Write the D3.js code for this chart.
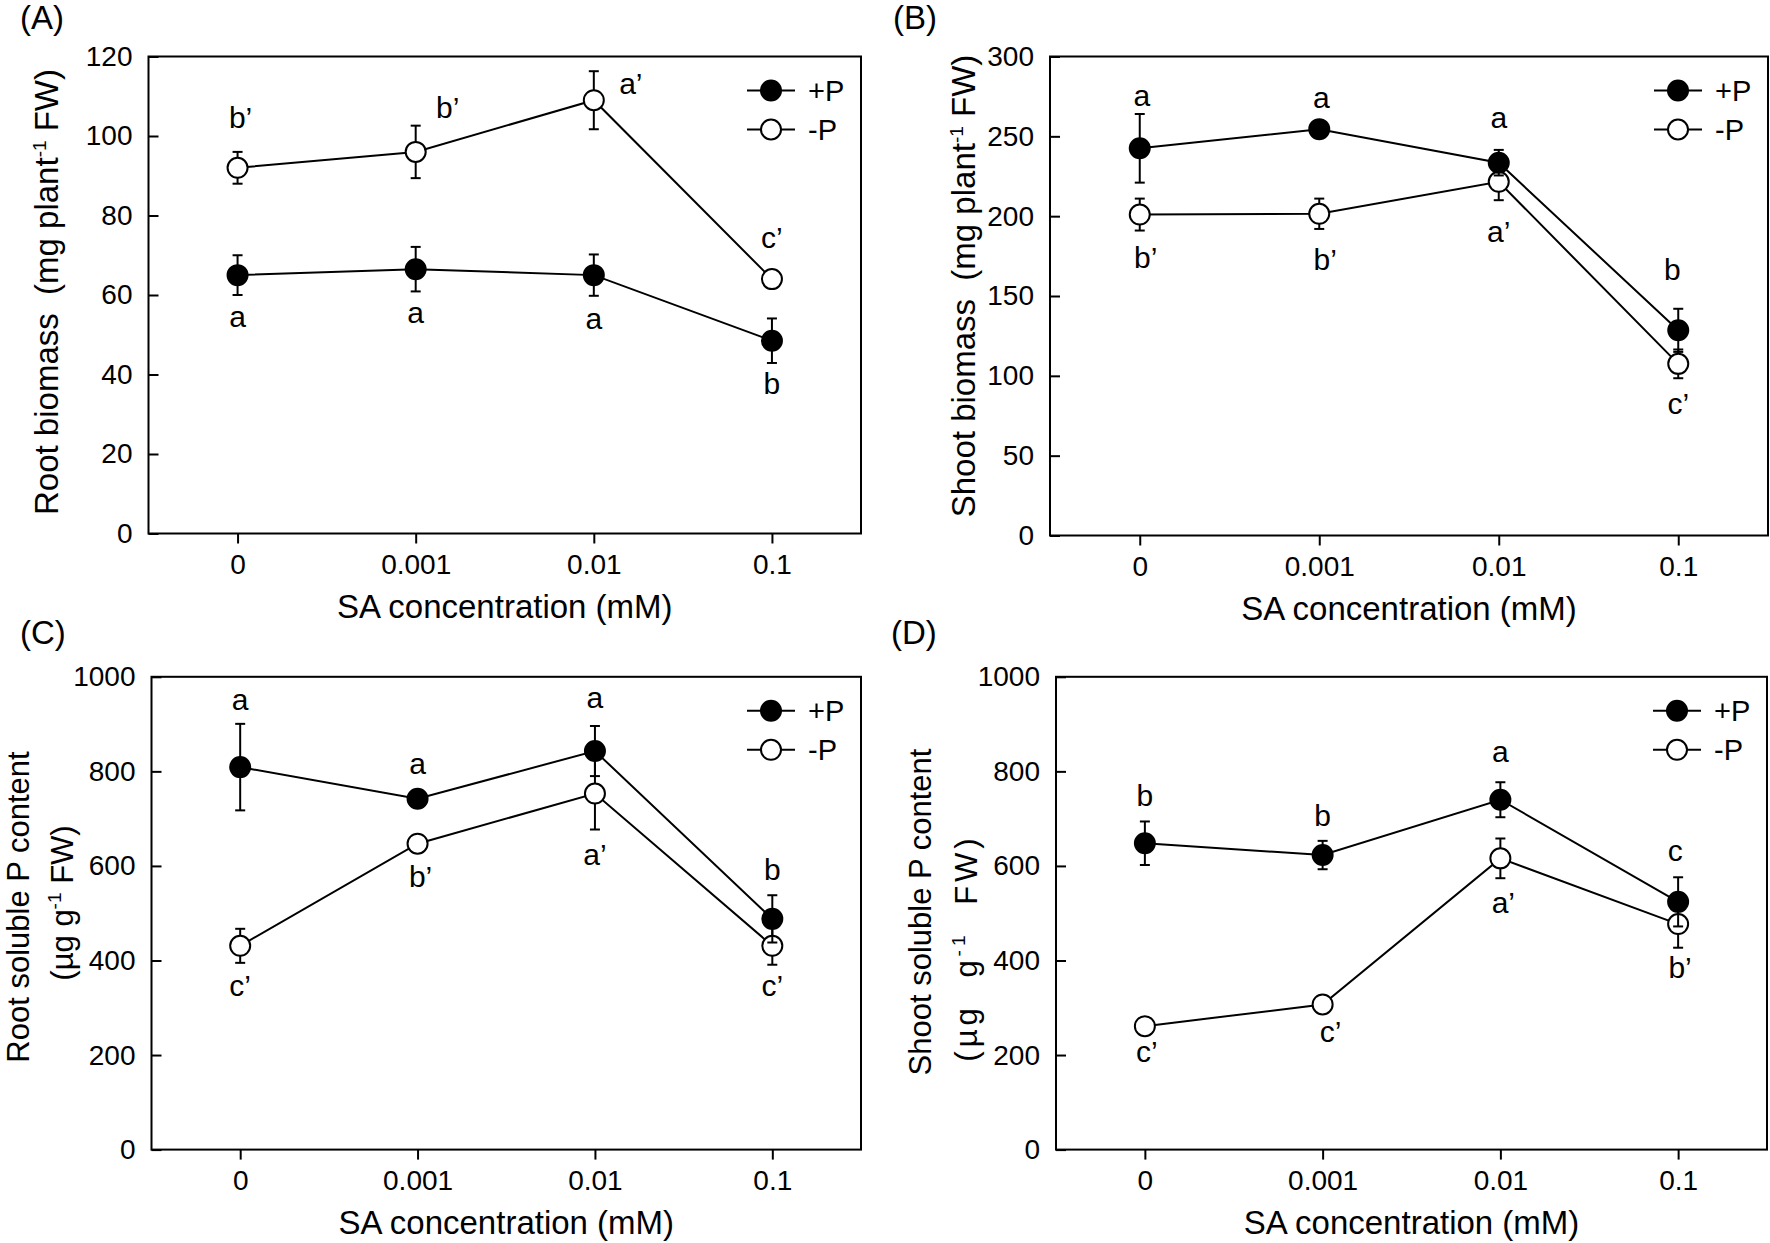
<!DOCTYPE html>
<html>
<head>
<meta charset="utf-8">
<script src="https://cdn.jsdelivr.net/npm/d3@7/dist/d3.min.js"></script>
<style>
  body { margin: 0; background: #fff; }
  text { font-family: "Liberation Sans", Arial, sans-serif; fill: #000; }
</style>
</head>
<body>
<script>
// x categories, shared by all panels
var categories = ["0", "0.001", "0.01", "0.1"];
var seriesNames = ["+P", "-P"];

// (A) root biomass
var rootBioPlus      = [65, 66.5, 65, 48.5];
var rootBioPlusErr   = [5, 5.6, 5.2, 5.6];
var rootBioMinus     = [92, 96, 109, 64];
var rootBioMinusErr  = [4, 6.6, 7.3, 1.5];
var rootBioPlusLet   = ["a", "a", "a", "b"];
var rootBioMinusLet  = ["b\u2019", "b\u2019", "a\u2019", "c\u2019"];
var rootBioPlusLetY  = [54.2, 55.2, 53.7, 37.3];
var rootBioMinusLetY = [104.4, 106.9, 112.8, 74];
var rootBioTicks     = [0, 20, 40, 60, 80, 100, 120];

// (B) shoot biomass
var shootBioPlus      = [242.5, 254.5, 233.5, 128.5];
var shootBioPlusErr   = [21.5, 2, 8, 13.5];
var shootBioMinus     = [201, 201.5, 221.5, 107.5];
var shootBioMinusErr  = [10, 9.5, 11.5, 9];
var shootBioPlusLet   = ["a", "a", "a", "b"];
var shootBioMinusLet  = ["b\u2019", "b\u2019", "a\u2019", "c\u2019"];
var shootBioPlusLetY  = [274.7, 273.4, 261, 165.8];
var shootBioMinusLetY = [173.2, 172, 189.3, 81.7];
var shootBioTicks     = [0, 50, 100, 150, 200, 250, 300];

// (C) root soluble P
var rootPPlus      = [809, 742, 843, 488];
var rootPPlusErr   = [91.5, 10, 53, 50];
var rootPMinus     = [431, 647, 753, 431];
var rootPMinusErr  = [36, 8, 76, 40];
var rootPPlusLet   = ["a", "a", "a", "b"];
var rootPMinusLet  = ["c\u2019", "b\u2019", "a\u2019", "c\u2019"];
var rootPPlusLetY  = [948, 813, 952, 589];
var rootPMinusLetY = [343, 574, 620, 343];
var rootPTicks     = [0, 200, 400, 600, 800, 1000];

// (D) shoot soluble P
var shootPPlus      = [648, 623, 740, 524];
var shootPPlusErr   = [46, 30, 37, 52];
var shootPMinus     = [261, 307, 616, 477];
var shootPMinusErr  = [5, 5, 42, 50];
var shootPPlusLet   = ["b", "b", "a", "c"];
var shootPMinusLet  = ["c\u2019", "c\u2019", "a\u2019", "b\u2019"];
var shootPPlusLetY  = [746, 704, 839, 629];
var shootPMinusLetY = [204, 247, 520, 381];
var shootPTicks     = [0, 200, 400, 600, 800, 1000];

var panels = [
  { tag: "(A)", tagX: 20, tagY: 29,
    left: 148.5, right: 861, top: 56.5, bottom: 533.5, yMax: 120, ticks: rootBioTicks,
    plus: rootBioPlus, plusErr: rootBioPlusErr, minus: rootBioMinus, minusErr: rootBioMinusErr,
    plusLet: rootBioPlusLet, plusLetY: rootBioPlusLetY, plusDx: [0, 0, 0, 0],
    minusLet: rootBioMinusLet, minusLetY: rootBioMinusLetY, minusDx: [3, 32, 37, 0],
    title: [{ x: 58, y: 292, size: 33, parts: [["Root biomass\u00a0 (mg plant"], ["-1", 1], [" FW)"]] }] },
  { tag: "(B)", tagX: 893, tagY: 29,
    left: 1050, right: 1768, top: 56.5, bottom: 535.5, yMax: 300, ticks: shootBioTicks,
    plus: shootBioPlus, plusErr: shootBioPlusErr, minus: shootBioMinus, minusErr: shootBioMinusErr,
    plusLet: shootBioPlusLet, plusLetY: shootBioPlusLetY, plusDx: [2, 2, 0, -6],
    minusLet: shootBioMinusLet, minusLetY: shootBioMinusLetY, minusDx: [6, 6, 0, 0],
    title: [{ x: 975, y: 286, size: 33, parts: [["Shoot biomass\u00a0 (mg plant"], ["-1", 1], [" FW)"]] }] },
  { tag: "(C)", tagX: 20, tagY: 644,
    left: 151.5, right: 861, top: 676.8, bottom: 1149.6, yMax: 1000, ticks: rootPTicks,
    plus: rootPPlus, plusErr: rootPPlusErr, minus: rootPMinus, minusErr: rootPMinusErr,
    plusLet: rootPPlusLet, plusLetY: rootPPlusLetY, plusDx: [0, 0, 0, 0],
    minusLet: rootPMinusLet, minusLetY: rootPMinusLetY, minusDx: [0, 3, 0, 0],
    title: [{ x: 29, y: 907, size: 31, parts: [["Root soluble P content"]] },
            { x: 73, y: 903, size: 31, parts: [["(\u00b5g g"], ["-1", 1], [" FW)"]] }] },
  { tag: "(D)", tagX: 891, tagY: 644,
    left: 1056, right: 1767, top: 676.8, bottom: 1149.6, yMax: 1000, ticks: shootPTicks,
    plus: shootPPlus, plusErr: shootPPlusErr, minus: shootPMinus, minusErr: shootPMinusErr,
    plusLet: shootPPlusLet, plusLetY: shootPPlusLetY, plusDx: [0, 0, 0, -3],
    minusLet: shootPMinusLet, minusLetY: shootPMinusLetY, minusDx: [2, 8, 3, 2],
    title: [{ x: 931, y: 912, size: 31, parts: [["Shoot soluble P content"]] },
            { x: 977, y: 948, size: 31, spacing: 4, wordSpacing: 14, parts: [["(\u00b5g g"], ["-1", 1], [" FW)"]] }] }
];

var svg = d3.select("body")
            .append("svg")
            .attr("width", 1770)
            .attr("height", 1243);

var tickFont = 28, titleFont = 33, letFont = 30, legFont = 29;

function drawPanel(p) {
  var x = d3.scalePoint().domain(categories).range([p.left, p.right]).padding(0.5);
  var y = d3.scaleLinear().domain([0, p.yMax]).range([p.bottom, p.top]);
  var g = svg.append("g");

  // y axis, ticks pointing in
  var ya = g.append("g")
    .attr("transform", "translate(" + p.left + ",0)")
    .call(d3.axisLeft(y).tickValues(p.ticks).tickFormat(d3.format("d"))
      .tickSize(-10).tickSizeOuter(0).tickPadding(16));
  // x axis, ticks pointing out
  var xa = g.append("g")
    .attr("transform", "translate(0," + p.bottom + ")")
    .call(d3.axisBottom(x).tickSize(10).tickSizeOuter(0).tickPadding(11));
  [ya, xa].forEach(function(a){
    a.select(".domain").remove();
    a.selectAll("line").attr("stroke", "#000").attr("stroke-width", 2);
    a.selectAll("text").attr("font-size", tickFont).attr("font-family", "Liberation Sans, Arial, sans-serif");
  });

  g.append("rect")
    .attr("x", p.left).attr("y", p.top)
    .attr("width", p.right - p.left).attr("height", p.bottom - p.top)
    .attr("fill", "none").attr("stroke", "#000").attr("stroke-width", 2);

  // x title
  g.append("text")
    .attr("x", (p.left + p.right) / 2).attr("y", p.bottom + 84)
    .attr("text-anchor", "middle").attr("font-size", titleFont)
    .text("SA concentration (mM)");

  // y title
  p.title.forEach(function(t){
    var tx = g.append("text")
      .attr("transform", "translate(" + t.x + "," + t.y + ") rotate(-90)")
      .attr("text-anchor", "middle").attr("font-size", t.size);
    if (t.wordSpacing) tx.attr("word-spacing", t.wordSpacing);
    if (t.spacing) tx.attr("letter-spacing", t.spacing);
    var up = false;
    t.parts.forEach(function(pt){
      var s = tx.append("tspan").text(pt[0]);
      if (pt[1]) { s.attr("font-size", 19).attr("dy", -12); up = true; }
      else if (up) { s.attr("dy", 12); up = false; }
    });
  });

  // panel tag
  svg.append("text").attr("x", p.tagX).attr("y", p.tagY)
    .attr("font-size", titleFont).text(p.tag);

  var line = d3.line()
    .x(function(d, i){ return x(categories[i]); })
    .y(function(d){ return y(d); });

  var series = [
    { vals: p.minus, err: p.minusErr, fill: "#fff" },
    { vals: p.plus,  err: p.plusErr,  fill: "#000" }
  ];

  series.forEach(function(s){
    g.append("path").datum(s.vals).attr("d", line)
      .attr("fill", "none").attr("stroke", "#000").attr("stroke-width", 2);
  });

  series.forEach(function(s){
    var eb = g.append("g").selectAll("g").data(s.vals).enter().append("g");
    eb.append("line")
      .attr("x1", function(d, i){ return x(categories[i]); })
      .attr("x2", function(d, i){ return x(categories[i]); })
      .attr("y1", function(d, i){ return y(d + s.err[i]); })
      .attr("y2", function(d, i){ return y(d - s.err[i]); })
      .attr("stroke", "#000").attr("stroke-width", 2);
    [1, -1].forEach(function(sign){
      eb.append("line")
        .attr("x1", function(d, i){ return x(categories[i]) - 5; })
        .attr("x2", function(d, i){ return x(categories[i]) + 5; })
        .attr("y1", function(d, i){ return y(d + sign * s.err[i]); })
        .attr("y2", function(d, i){ return y(d + sign * s.err[i]); })
        .attr("stroke", "#000").attr("stroke-width", 2);
    });
    g.append("g").selectAll("circle").data(s.vals).enter().append("circle")
      .attr("cx", function(d, i){ return x(categories[i]); })
      .attr("cy", function(d){ return y(d); })
      .attr("r", 10)
      .attr("fill", s.fill).attr("stroke", "#000").attr("stroke-width", 2);
  });

  // significance letters
  [[p.plusLet, p.plusLetY, p.plusDx], [p.minusLet, p.minusLetY, p.minusDx]].forEach(function(L){
    g.append("g").selectAll("text").data(L[0]).enter().append("text")
      .attr("x", function(d, i){ return x(categories[i]) + L[2][i]; })
      .attr("y", function(d, i){ return y(L[1][i]) + letFont * 0.3; })
      .attr("text-anchor", "middle").attr("font-size", letFont)
      .text(function(d){ return d; });
  });

  // legend
  var mx = p.right - 90;
  seriesNames.forEach(function(name, i){
    var ly = p.top + 34 + i * 39;
    g.append("line").attr("x1", mx - 24).attr("x2", mx + 24).attr("y1", ly).attr("y2", ly)
      .attr("stroke", "#000").attr("stroke-width", 2);
    g.append("circle").attr("cx", mx).attr("cy", ly).attr("r", 10)
      .attr("fill", i === 0 ? "#000" : "#fff").attr("stroke", "#000").attr("stroke-width", 2);
    g.append("text").attr("x", mx + 37).attr("y", ly + 10)
      .attr("font-size", legFont).text(name);
  });
}

panels.forEach(drawPanel);
</script>
</body>
</html>
